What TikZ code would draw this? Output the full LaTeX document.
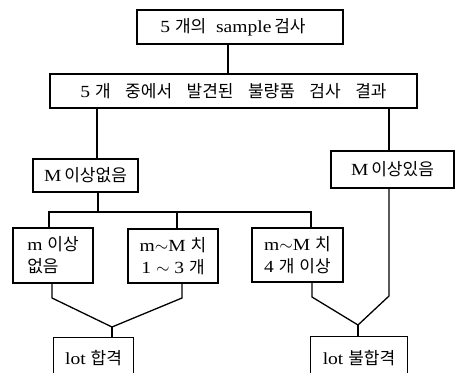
\documentclass[tikz,border=0pt]{standalone}
\usepackage{fontspec}
\setmainfont{Liberation Serif}[FakeStretch=1.15]
\newfontfamily\kr{Noto Sans CJK KR}
\newcommand{\K}[1]{{\kr #1}}
\newcommand{\gap}{\hspace{14.5pt}}
\usetikzlibrary{calc}
\begin{document}
\begin{tikzpicture}[x=1pt,y=-1pt,
  line width=1.3pt,
  box/.style={draw,rectangle,inner sep=0pt,font=\fontsize{17}{22}\selectfont},
  openbox/.style={rectangle,inner sep=0pt,font=\fontsize{17}{22}\selectfont}]
\useasboundingbox (0,0) rectangle (457,372);
\node[box,minimum width=206pt,minimum height=34pt] (b1) at (240,27) {\hspace{-14pt}5 \K{개의}\ \ sample\,\K{검사}};
\node[box,minimum width=367pt,minimum height=34pt] (b2) at (233.5,91) {5 \K{개}\gap\K{중에서}\gap\K{발견된}\gap\K{불량품}\gap\K{검사}\gap\K{결과}};
\node[box,minimum width=105pt,minimum height=33pt] (b3) at (85.5,175.5) {M\,\K{이상없음}};
\node[box,minimum width=123pt,minimum height=37pt] (b4) at (392.5,169.5) {M\,\K{이상있음}};
\node[box,minimum width=80pt,minimum height=55pt,align=left] (ba) at (53,255.5) {m \K{이상}\\ \K{없음}};
\node[box,minimum width=90pt,minimum height=54pt,align=center] (bb) at (173,256) {m$\sim$M \K{치}\\ 1 $\sim$ 3 \K{개}};
\node[box,minimum width=91pt,minimum height=54pt,align=left] (bc) at (297.5,255) {m$\sim$M \K{치}\\ 4 \K{개}\ \K{이상}};
\node[openbox,minimum width=79pt,minimum height=40pt] (l1) at (93.5,358) {lot \K{합격}};
\node[openbox,minimum width=96pt,minimum height=42pt] (l2) at (359,358) {lot \K{불합격}};
\draw (l1.south west) -- (l1.north west) -- (l1.north east) -- (l1.south east);
\draw (l2.south west) -- (l2.north west) -- (l2.north east) -- (l2.south east);
% x positions
\coordinate (x1) at (228,0);
\coordinate (xl) at (97,0);
\coordinate (xr) at (389,0);
\coordinate (xm) at (98,0);
\coordinate (xa) at (49,0);
\coordinate (xb) at (177,0);
\coordinate (xc) at (311,0);
\coordinate (ya) at (0,212);
\coordinate (j1) at (112,327);
\coordinate (j2) at (358,325);
\draw (b1.south -| x1) -- (b2.north -| x1);
\draw (b2.south -| xl) -- (b3.north -| xl);
\draw (b2.south -| xr) -- (b4.north -| xr);
\draw (b3.south -| xm) -- (xm |- ya);
\draw (ba.north -| xa) -- (xa |- ya) -- (xc |- ya) -- (bc.north -| xc);
\draw (xb |- ya) -- (bb.north -| xb);
\draw (ba.south -| 52,0) -- (52,298) -- (j1);
\draw (bb.south -| 182,0) -- (182,298) -- (j1);
\draw (j1) -- (l1.north -| j1);
\draw (bc.south -| 312,0) -- (312,297) -- (j2);
\draw (b4.south -| xr) -- (389,296) -- (j2);
\draw (j2) -- (l2.north -| j2);
\end{tikzpicture}
\end{document}
